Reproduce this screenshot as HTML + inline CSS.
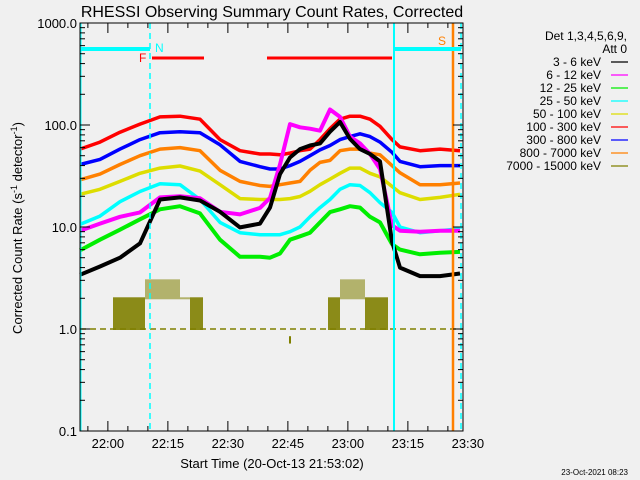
<!DOCTYPE html>
<html><head><meta charset="utf-8"><style>
body{margin:0;background:#f0f0f0;}
svg{display:block;font-family:"Liberation Sans",sans-serif;}
</style></head><body>
<svg id="chart" width="640" height="480" viewBox="0 0 640 480">
<rect width="640" height="480" fill="#f0f0f0"/>
<text x="272" y="17" font-size="16" text-anchor="middle">RHESSI Observing Summary Count Rates, Corrected</text>
<g id="plot"></g>
<g id="axes"></g>
<text x="272" y="468" font-size="13" text-anchor="middle">Start Time (20-Oct-13 21:53:02)</text>
<text transform="translate(22,228) rotate(-90)" font-size="13" text-anchor="middle">Corrected Count Rate (s<tspan font-size="9" dy="-5">-1</tspan><tspan dy="5"> detector</tspan><tspan font-size="9" dy="-5">-1</tspan><tspan dy="5">)</tspan></text>
<text x="628" y="475" font-size="8" text-anchor="end">23-Oct-2021 08:23</text>
<g id="legend">
<text x="627" y="40" font-size="12" text-anchor="end">Det 1,3,4,5,6,9,</text>
<text x="627" y="53" font-size="12" text-anchor="end">Att 0</text>
</g>
</svg>
<script>
// time in minutes since 21:53:02
const times=[0,5,10,15,20,25,30,35,40,45,47.5,50,52.5,55,57.5,60,62.5,65,67.5,70,72.5,75,78,80,85,90,95];
const labels=["3 - 6 keV","6 - 12 keV","12 - 25 keV","25 - 50 keV","50 - 100 keV","100 - 300 keV","300 - 800 keV","800 - 7000 keV","7000 - 15000 keV"];
const colors=["#000000","#ff00ff","#00ee00","#00ffff","#dddd00","#ff0000","#0000ff","#ff8000","#808000"];
const s3_6=[3.4,4.1,5.0,6.9,18.6,19.5,18.2,14.1,9.9,10.8,15.5,33,48,58,63,66,86,107,73,58,52,44,7.2,4.0,3.3,3.3,3.5];
const s6_12=[9.2,10.8,12.6,13.9,19.5,20,19.1,14.1,13.3,15.4,19.3,41,102,95,92,88,142,120,77,66,52,37,10.4,9.2,9.0,9.2,9.2];
const s12_25=[5.9,7.5,9.4,11.9,14.9,16,13.6,7.5,5.1,5.1,5.0,5.5,7.5,8.1,8.8,11.1,14,14.9,16,15.5,12.6,11.1,6.8,6.0,5.4,5.6,5.7];
const s25_50=[10.6,12.8,17.7,22.3,26.6,26,18.6,11.1,8.8,8.4,8.4,8.4,9.0,10.0,12.6,15.5,18.6,23.4,26,25.5,21.7,17.3,13.9,10.0,8.8,9.2,9.6];
const s50_100=[20.9,23.4,28,33.6,37.8,39.6,35.3,26,19,18.6,18.6,18.6,19,19.9,22.4,26,29.5,33.6,37.8,37.8,33.6,31,25,21.7,18.6,19.5,20.9];
const s100_300=[58,68,85,102,120,122,114,72,56,52,52,51,53,56,58,72,92,114,122,122,114,97,72,61,56,58,56];
const s300_800=[41,46,58,72,84,86,84,64,44,39,37,37,40,44,50,57,63,72,77,82,77,68,54,44,39,40,40];
const s800_7000=[29,33,41,50,58,60,56,36,28,25.5,25,26,27,28,36,43,45,56,58,58,53,51,40,34,26,26,27];
const allSeries=[s3_6,s6_12,s12_25,s25_50,s50_100,s100_300,s300_800,s800_7000];
// 7000-15000 keV: banded ranges [t0,t1,lo,hi]
const oliveT0=[8.25,11.25,16.25,25,27.5,62,65,71.25];
const oliveT1=[11.25,16.25,25,27.5,30.75,65,71.25,77];
const oliveLo=[1,1,2,2,1,1,2,1];
const oliveHi=[2,2,3,2,2,2,3,2];
const yTicks=[1000,100,10,1,0.1];
const yTickLabels=["1000.0","100.0","10.0","1.0","0.1"];
const xTickMin=[6.97,21.97,36.97,51.97,66.97,81.97,96.97];
const xTickLabels=["22:00","22:15","22:30","22:45","23:00","23:15","23:30"];

const X0=80,X1=463,Y0=23,Y1=431;
const xs=t=>X0+t*4;
const ys=v=>Y0+(3-Math.log10(v))*(Y1-Y0)/4;
const NS="http://www.w3.org/2000/svg";
function mk(tag,attrs,parent){const e=document.createElementNS(NS,tag);for(const k in attrs)e.setAttribute(k,attrs[k]);parent.appendChild(e);return e;}
const plot=document.getElementById('plot'),axes=document.getElementById('axes'),legend=document.getElementById('legend');

// olive baseline at 1.0
let bl=mk('line',{x1:X0,x2:X1,y1:ys(1),y2:ys(1),stroke:"#808000","stroke-width":1.5,"stroke-dasharray":"6 4"},plot);


for(let i=0;i<oliveT0.length;i++){
  const sparse=oliveLo[i]>=2;
  const r=mk('rect',{x:xs(oliveT0[i]),width:xs(oliveT1[i])-xs(oliveT0[i]),y:ys(oliveHi[i])-1,height:ys(oliveLo[i])-ys(oliveHi[i])+2,fill:"#808000","fill-opacity":sparse?0.55:0.9},plot);
  
  
}
let dip=mk('line',{x1:290,x2:290,y1:ys(0.85),y2:ys(0.72),stroke:"#808000","stroke-width":2},plot);



for(let s=allSeries.length-1;s>=0;s--){
  const pts=times.map((t,i)=>xs(t).toFixed(1)+","+ys(allSeries[s][i]).toFixed(1)).join(" ");
  const p=mk('polyline',{points:pts,fill:"none",stroke:colors[s],"stroke-width":s<=2?4:3.5,"stroke-linejoin":"round"},plot);
  
  
}

// markers
function ln(a,name){const e=mk('line',a,plot);}
ln({x1:80.5,x2:80.5,y1:Y0,y2:Y1,stroke:"#00ffff","stroke-width":2},'night-end-line');
ln({x1:150,x2:150,y1:Y0,y2:Y1,stroke:"#00ffff","stroke-width":1.5,"stroke-dasharray":"6 4"},'saa-line-1');
ln({x1:394,x2:394,y1:Y0,y2:Y1,stroke:"#00ffff","stroke-width":2},'night-start-line');
ln({x1:461,x2:461,y1:Y0,y2:Y1,stroke:"#00ffff","stroke-width":1.5,"stroke-dasharray":"6 4"},'saa-line-2');
ln({x1:453,x2:453,y1:Y0,y2:Y1,stroke:"#ff8000","stroke-width":2.5},'flare-line');
ln({x1:80,x2:150,y1:49,y2:49,stroke:"#00ffff","stroke-width":4},'night-bar-1');
ln({x1:394,x2:461,y1:49,y2:49,stroke:"#00ffff","stroke-width":4},'night-bar-2');
ln({x1:152,x2:204,y1:58,y2:58,stroke:"#ff0000","stroke-width":3},'flare-bar-1');
ln({x1:267,x2:392,y1:58,y2:58,stroke:"#ff0000","stroke-width":3},'flare-bar-2');
function tx(x,y,str,fill,name,size,anchor){const e=mk('text',{x:x,y:y,fill:fill,"font-size":size||12,"text-anchor":anchor||"start"},plot);e.textContent=str;}
tx(155,52,"N","#00ffff",'label-n');
tx(139,62,"F","#ff0000",'label-f');
tx(438,45,"S","#ff8000",'label-s');

// axes frame
const fr=mk('rect',{x:X0,y:Y0,width:X1-X0,height:Y1-Y0,fill:"none",stroke:"#000","stroke-width":1},axes);


for(let d=-1;d<3;d++){for(let m=1;m<10;m++){const v=Math.pow(10,d)*m;const y=ys(v);const L=m==1?10:5;
  mk('line',{x1:X0,x2:X0+L,y1:y,y2:y,stroke:"#000"},axes);mk('line',{x1:X1,x2:X1-L,y1:y,y2:y,stroke:"#000"},axes);}}
yTicks.forEach((v,i)=>{const t=mk('text',{x:77,y:ys(v)+5,"font-size":13,"text-anchor":"end"},axes);t.textContent=yTickLabels[i];
  });
for(let m=1.97;m<96;m+=5){const x=xs(m);const major=xTickMin.some(t=>Math.abs(t-m)<0.1);const L=major?10:5;
  mk('line',{x1:x,x2:x,y1:Y1,y2:Y1-L,stroke:"#000"},axes);mk('line',{x1:x,x2:x,y1:Y0,y2:Y0+L,stroke:"#000"},axes);}
xTickMin.forEach((m,i)=>{const t=mk('text',{x:xs(m),y:448,"font-size":13,"text-anchor":"middle"},axes);t.textContent=xTickLabels[i];
  });

// legend
labels.forEach((l,i)=>{const y=66+i*13;
  const t=mk('text',{x:601,y:y,"font-size":12,"text-anchor":"end"},legend);t.textContent=l;
  
  const k=mk('line',{x1:611,x2:628,y1:y-4,y2:y-4,stroke:colors[i],"stroke-width":1.2},legend);
  });
</script>
</body></html>
